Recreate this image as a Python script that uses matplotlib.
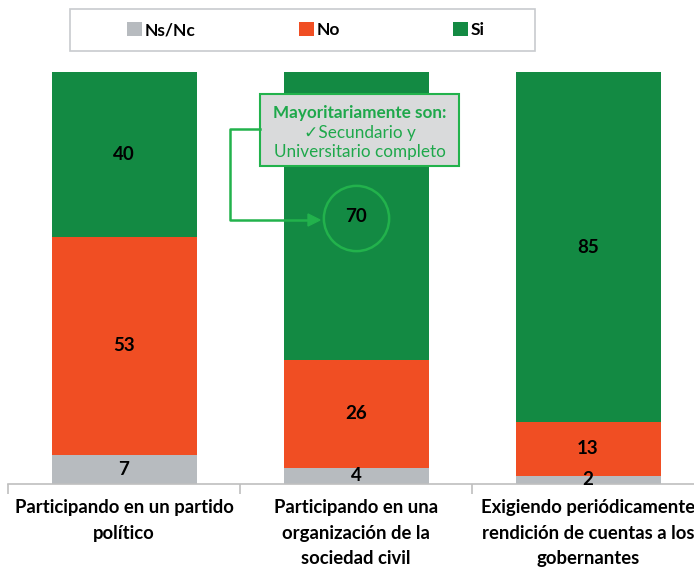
import matplotlib
matplotlib.use("Agg")
import matplotlib.pyplot as plt
from matplotlib.patches import Rectangle, Patch
from matplotlib.lines import Line2D
from matplotlib.transforms import Affine2D
import numpy as np

categories = ["Participando en un partido\npolítico",
              "Participando en una\norganización de la\nsociedad civil",
              "Exigiendo periódicamente\nrendición de cuentas a los\ngobernantes"]
series_names = ["Ns/Nc", "No", "Si"]
nsnc = [7, 4, 2]
no = [53, 26, 13]
si = [40, 70, 85]
colors = ["#B7BBBF", "#F04E23", "#138A43"]
annot_lines = ["Mayoritariamente son:", "\u2713Secundario y", "Universitario completo"]

W, H = 694, 568
fig = plt.figure(figsize=(W/100, H/100), dpi=100)
FONT = ['Lato', 'DejaVu Sans']
plt.rcParams['font.family'] = FONT

# pixel transform (origin top-left)
px = Affine2D().scale(1/W, -1/H).translate(0, 1) + fig.transFigure

ax_left, ax_right = 8, 704
ax_bottom, ax_top = 484, 72
ax = fig.add_axes([ax_left/W, 1-ax_bottom/H, (ax_right-ax_left)/W, (ax_bottom-ax_top)/H])
ax.set_xlim(-0.5, 2.5)
ax.set_ylim(0, 100)

x = np.arange(len(categories))
bw = 0.625
bottom = np.zeros(len(categories))
for vals, col in zip([nsnc, no, si], colors):
    vals = np.array(vals, dtype=float)
    ax.bar(x, vals, bw, bottom=bottom, color=col, linewidth=0, zorder=2)
    for xi, b, v in zip(x, bottom, vals):
        ax.text(xi, b + v/2, f"{int(v)}", ha='center', va='center', fontsize=13.5,
                fontweight='bold', color='black', family=FONT, zorder=4)
    bottom += vals

for s in ['top', 'right', 'left']:
    ax.spines[s].set_visible(False)
ax.spines['bottom'].set_color('#BFBFBF')
ax.spines['bottom'].set_linewidth(1.2)
ax.set_yticks([])
ax.set_xticks(x)
ax.set_xticklabels(categories, fontsize=13.3, fontweight='bold', family=FONT, linespacing=1.6)
ax.tick_params(axis='x', which='major', length=0, pad=11)
ax.set_xticks([-0.5, 0.5, 1.5, 2.5], minor=True)
ax.tick_params(axis='x', which='minor', length=7, color='#BFBFBF', width=1.2)

# legend box
fig.add_artist(Rectangle((70, 9), 465, 42, transform=px, facecolor='white',
                         edgecolor='#C8CBCE', linewidth=1.2))
leg_x = [127, 299, 453]
for name, col, lx in zip(series_names, colors, leg_x):
    fig.legend(handles=[Patch(facecolor=col, edgecolor='none')], labels=[name],
               loc='center left', bbox_to_anchor=(lx/W, 1-30/H), frameon=False,
               handlelength=0.85, handleheight=0.85, handletextpad=0.15,
               borderpad=0, borderaxespad=0,
               prop={'family': FONT, 'weight': 'bold', 'size': 12.5})

# annotation
green = "#22B24C"
txtgreen = "#1EA84B"
fig.add_artist(Rectangle((260, 94), 199, 72, transform=px, facecolor='#D9DADB',
                         edgecolor=green, linewidth=1.5, zorder=5))
fig.text(359.5/W, 1-113/H, annot_lines[0], ha='center', va='center', fontsize=12.3,
         fontweight='bold', color=txtgreen, family=FONT, zorder=6)
fig.text(359.5/W, 1-133/H, annot_lines[1], ha='center', va='center', fontsize=12.3,
         color=txtgreen, family=FONT, zorder=6)
fig.text(359.5/W, 1-152/H, annot_lines[2], ha='center', va='center', fontsize=12.3,
         color=txtgreen, family=FONT, zorder=6)

fig.add_artist(Line2D([260, 230, 230, 312], [129, 129, 220, 220], transform=px,
                      color=green, linewidth=1.8, zorder=5))
fig.add_artist(matplotlib.patches.FancyArrow(308, 220, 12, 0, width=0.1, head_width=12,
                                             head_length=12, length_includes_head=True,
                                             transform=px, color=green, zorder=5))
# circle around the Si value of category 2
si_center = nsnc[1] + no[1] + si[1] / 2
ax.plot([1], [si_center - 0.5], marker='o', markersize=47, markerfacecolor='none',
        markeredgecolor=green, markeredgewidth=1.8, zorder=5)

fig.savefig("out.png", dpi=100)
